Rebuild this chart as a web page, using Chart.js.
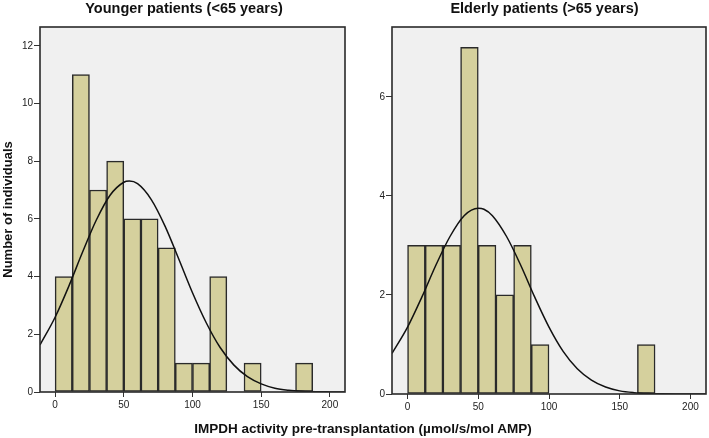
<!DOCTYPE html>
<html>
<head>
<meta charset="utf-8">
<script src="https://cdn.jsdelivr.net/npm/chart.js@4"></script>
<style>
  body { margin: 0; background: #fff; }
  #wrap { position: relative; width: 709px; height: 438px; overflow: hidden; font-family: "Liberation Sans", Arial, sans-serif; }
  #leftBox { position: absolute; left: 0; top: 0; }
  #rightBox { position: absolute; left: 350px; top: 0; }
  #xTitle { position: absolute; left: 363px; top: 421px; transform: translateX(-50%); font-weight: bold; font-size: 13.5px; line-height: 16px; color: #111; white-space: nowrap; }
</style>
</head>
<body>
<div id="wrap">
  <div id="leftBox"><canvas id="youngChart" width="350" height="438"></canvas></div>
  <div id="rightBox"><canvas id="elderChart" width="359" height="438"></canvas></div>
  <div id="xTitle">IMPDH activity pre-transplantation (µmol/s/mol AMP)</div>
</div>
<script>
// histogram bins (bin width 12.5), centers
const binCenters = [6.25, 18.75, 31.25, 43.75, 56.25, 68.75, 81.25, 93.75, 106.25, 118.75, 131.25, 143.75, 156.25, 168.75, 181.25, 193.75];
const youngCounts = [4, 11, 7, 8, 6, 6, 5, 1, 1, 4, 0, 1, 0, 0, 1, 0];
const elderCounts = [3, 3, 3, 7, 3, 2, 3, 1, 0, 0, 0, 0, 0, 1, 0, 0];

// normal curve
const curveX = [-11, 0, 10, 20, 30, 40, 50, 54, 60, 70, 80, 90, 100, 110, 120, 130, 140, 150, 160, 170, 180, 190, 200, 211];
const youngCurve = [1.63, 2.59, 3.67, 4.85, 5.96, 6.82, 7.27, 7.31, 7.22, 6.67, 5.75, 4.61, 3.44, 2.40, 1.55, 0.94, 0.53, 0.28, 0.13, 0.06, 0.026, 0.01, 0.004, 0.001];
const elderCurve = [0.82, 1.35, 1.95, 2.60, 3.18, 3.60, 3.75, 3.73, 3.60, 3.18, 2.60, 1.95, 1.35, 0.86, 0.51, 0.28, 0.14, 0.063, 0.027, 0.01, 0.004, 0.001, 0, 0];

const xTicks = [0, 50, 100, 150, 200];
const youngYTicks = [0, 2, 4, 6, 8, 10, 12];
const elderYTicks = [0, 2, 4, 6];

const FONT = '"Liberation Sans", Arial, sans-serif';
const INK = '#222';

const panelFrame = {
  id: 'panelFrame',
  beforeDraw(chart, args, opts) {
    const { ctx, chartArea: a } = chart;
    ctx.save();
    ctx.fillStyle = '#f0f0f0';
    ctx.fillRect(a.left, a.top, a.width, a.height);
    ctx.restore();
  },
  afterDraw(chart, args, opts) {
    const { ctx, chartArea: a } = chart;
    ctx.save();
    ctx.strokeStyle = '#2a2a2a';
    ctx.lineWidth = 1.6;
    ctx.strokeRect(a.left, a.top, a.width, a.height);
    // panel heading
    ctx.fillStyle = '#111';
    ctx.font = 'bold 14.5px ' + FONT;
    ctx.textAlign = 'center';
    ctx.textBaseline = 'middle';
    ctx.fillText(opts.text, opts.x, 9);
    ctx.restore();
  }
};

function makeChart(id, counts, curve, yMax, yTicks, pad, xHeight, heading, yTitle) {
  const ctx = document.getElementById(id).getContext('2d');
  return new Chart(ctx, {
    type: 'bar',
    data: {
      datasets: [
        {
          type: 'line',
          order: 0,
          data: curveX.map((x, i) => ({ x: x, y: curve[i] })),
          borderColor: '#111',
          borderWidth: 1.5,
          pointRadius: 0,
          cubicInterpolationMode: 'monotone',
          fill: false
        },
        {
          type: 'bar',
          order: 1,
          data: binCenters.map((x, i) => ({ x: x, y: counts[i] || null })),
          backgroundColor: '#d5d09d',
          borderColor: '#2a2a2a',
          borderWidth: 1.5,
          borderSkipped: false,
          barPercentage: 1,
          categoryPercentage: 1
        }
      ]
    },
    options: {
      responsive: false,
      animation: false,
      layout: { padding: pad },
      plugins: {
        legend: { display: false },
        tooltip: { enabled: false },
        panelFrame: heading
      },
      scales: {
        x: {
          type: 'linear',
          min: -11,
          max: 211,
          offset: false,
          grid: { offset: false, drawOnChartArea: false, drawTicks: true, tickLength: 5, color: '#333' },
          border: { display: false },
          afterBuildTicks: s => { s.ticks = xTicks.map(v => ({ value: v })); },
          afterFit: s => { s.height = xHeight; },
          ticks: { font: { size: 10, family: FONT }, color: INK, padding: 2, maxRotation: 0 }
        },
        y: {
          min: 0,
          max: yMax,
          grid: { drawOnChartArea: false, drawTicks: true, tickLength: 6, color: '#333' },
          border: { display: false },
          afterBuildTicks: s => { s.ticks = yTicks.map(v => ({ value: v })); },
          afterFit: s => { s.width = pad.yWidth; },
          ticks: { font: { size: 10, family: FONT }, color: INK, padding: 1 },
          title: {
            display: !!yTitle,
            text: yTitle,
            color: '#111',
            font: { size: 13, weight: 'bold', family: FONT },
            padding: { top: 1, bottom: 0 }
          }
        }
      }
    },
    plugins: [panelFrame]
  });
}

makeChart('youngChart', youngCounts, youngCurve, 12.65, youngYTicks,
  { top: 27, right: 5, bottom: 0, left: 0, yWidth: 40 }, 46,
  { text: 'Younger patients (<65 years)', x: 184 }, 'Number of individuals');

makeChart('elderChart', elderCounts, elderCurve, 7.41, elderYTicks,
  { top: 27, right: 3, bottom: 0, left: 0, yWidth: 42 }, 44,
  { text: 'Elderly patients (>65 years)', x: 194.5 }, '');
</script>
</body>
</html>
